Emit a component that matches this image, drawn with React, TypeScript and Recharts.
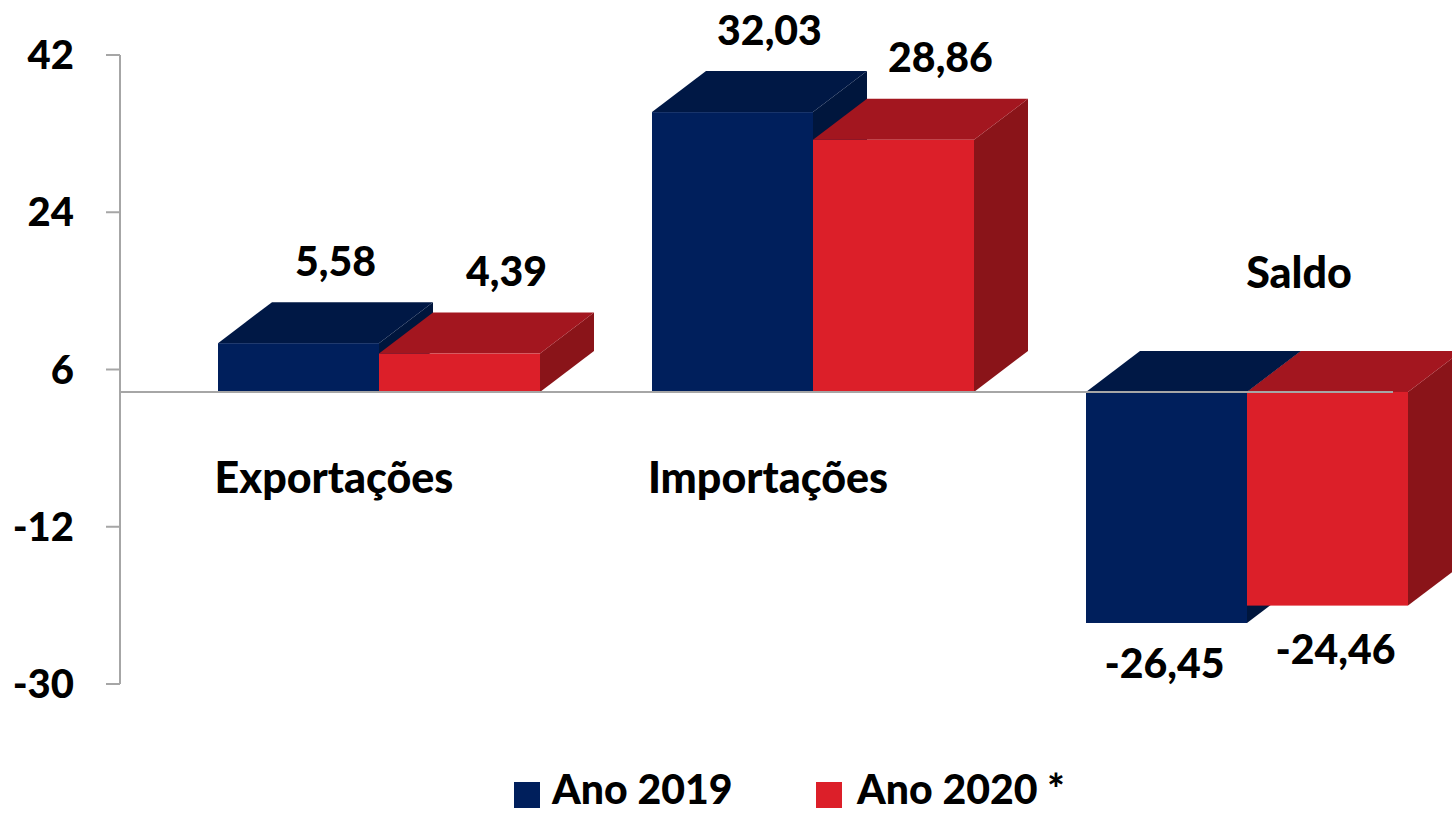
import React from 'react';
import { BarChart, Bar, XAxis, YAxis, ReferenceLine, LabelList, Legend } from 'recharts';

const categories = ['Exportações', 'Importações', 'Saldo'];
const values2019 = [5.58, 32.03, -26.45];
const values2020 = [4.39, 28.86, -24.46];
const yTicks = [-30, -12, 6, 24, 42];
const seriesNames = ['Ano 2019', 'Ano 2020 *'];

const data = categories.map((name, i) => ({ name, y2019: values2019[i], y2020: values2020[i] }));

const FONT = 'Lato, "Open Sans", sans-serif';
const WEIGHT = 900;
const W = 1452;
const H = 813;
// oblique 3D projection offsets
const SHIFT_X = 42;
const SHIFT_Y = 30;
const DX = 54;
const DY = 41;

const NAVY = { front: '#001F5C', top: '#001845', side: '#00163D' };
const RED = { front: '#DC1F29', top: '#A3161F', side: '#8A1419' };

const norm = (p: any) => {
  const src = p.x !== undefined ? p : p.viewBox || {};
  const x = Number(src.x);
  const y = Number(src.y);
  const w = Number(src.width);
  const h = Number(src.height);
  const t = Math.min(y, y + h);
  const b = Math.max(y, y + h);
  return { X: x + SHIFT_X, T: t - SHIFT_Y, B: b - SHIFT_Y, w };
};

const makeShape = (c: { front: string; top: string; side: string }) => (p: any) => {
  const { X, T, B, w } = norm(p);
  const side = `${X + w},${T} ${X + w + DX},${T - DY} ${X + w + DX},${B - DY} ${X + w},${B}`;
  const top = `${X},${T} ${X + DX},${T - DY} ${X + w + DX},${T - DY} ${X + w},${T}`;
  return (
    <g>
      <polygon points={side} fill={c.side} />
      <polygon points={top} fill={c.top} />
      <rect x={X} y={T} width={w} height={B - T} fill={c.front} />
    </g>
  );
};

const fmt = (v: number) => v.toFixed(2).replace('.', ',');

const makeValueLabel = (values: number[], posDx: number, posDy: number, negDx: number, negDy: number) => (p: any) => {
  const { X, T, B, w } = norm(p);
  const v = values[p.index];
  const neg = v < 0;
  const cx = X + w / 2 + (neg ? negDx : posDx);
  const by = neg ? B + negDy : T - DY - posDy;
  return (
    <text x={cx} y={by} textAnchor="middle" fontFamily={FONT} fontWeight={WEIGHT} fontSize={41} fill="#000">
      {fmt(v)}
    </text>
  );
};

const categoryLabel = (p: any) => {
  const { X, T, B, w } = norm(p);
  const neg = values2019[p.index] < 0;
  const cx = neg ? X + w + 52 : X + w - 45;
  const by = neg ? T - 104 : B + 101;
  return (
    <text x={cx} y={by} textAnchor="middle" fontFamily={FONT} fontWeight={WEIGHT} fontSize={43} fill="#000">
      {categories[p.index]}
    </text>
  );
};

const renderLegend = () => (
  <svg width={W} height={129} style={{ display: 'block' }}>
    <rect x={514} y={98} width={26} height={26} fill={NAVY.front} />
    <text x={552} y={120} fontFamily={FONT} fontWeight={WEIGHT} fontSize={41} fill="#000">
      {seriesNames[0]}
    </text>
    <rect x={816} y={98} width={26} height={26} fill={RED.front} />
    <text x={857} y={120} fontFamily={FONT} fontWeight={WEIGHT} fontSize={41} fill="#000">
      {seriesNames[1]}
    </text>
  </svg>
);

export default function App() {
  return (
    <div style={{ position: 'absolute', left: 0, top: 0, width: W, height: H, background: '#fff' }}>
      <BarChart
        width={W}
        height={H}
        data={data}
        margin={{ top: 55, right: 30, bottom: 0, left: 0 }}
        barCategoryGap={56}
        barGap={0}
      >
        <XAxis dataKey="name" hide />
        <YAxis
          type="number"
          domain={[-30, 42]}
          ticks={yTicks}
          interval={0}
          width={120}
          tickSize={14}
          tickMargin={32}
          axisLine={{ stroke: '#A6A6A6', strokeWidth: 2 }}
          tickLine={{ stroke: '#A6A6A6', strokeWidth: 2 }}
          tick={{ fill: '#000', fontSize: 40, fontWeight: WEIGHT, fontFamily: FONT }}
        />
        <Bar dataKey="y2019" name={seriesNames[0]} fill={NAVY.front} shape={makeShape(NAVY)} isAnimationActive={false}>
          <LabelList dataKey="y2019" content={makeValueLabel(values2019, 37, 26, -2, 55)} />
          <LabelList dataKey="name" content={categoryLabel} />
        </Bar>
        <Bar dataKey="y2020" name={seriesNames[1]} fill={RED.front} shape={makeShape(RED)} isAnimationActive={false}>
          <LabelList dataKey="y2020" content={makeValueLabel(values2020, 47, 27, 8, 58)} />
        </Bar>
        <ReferenceLine
          y={0}
          shape={(p: any) => (
            <line x1={p.x1} y1={p.y1 - SHIFT_Y} x2={p.x2 - 29} y2={p.y2 - SHIFT_Y} stroke="#A6A6A6" strokeWidth={2} />
          )}
        />
        <Legend verticalAlign="bottom" content={renderLegend} wrapperStyle={{ left: 0, bottom: 0, width: W }} />
      </BarChart>
    </div>
  );
}
